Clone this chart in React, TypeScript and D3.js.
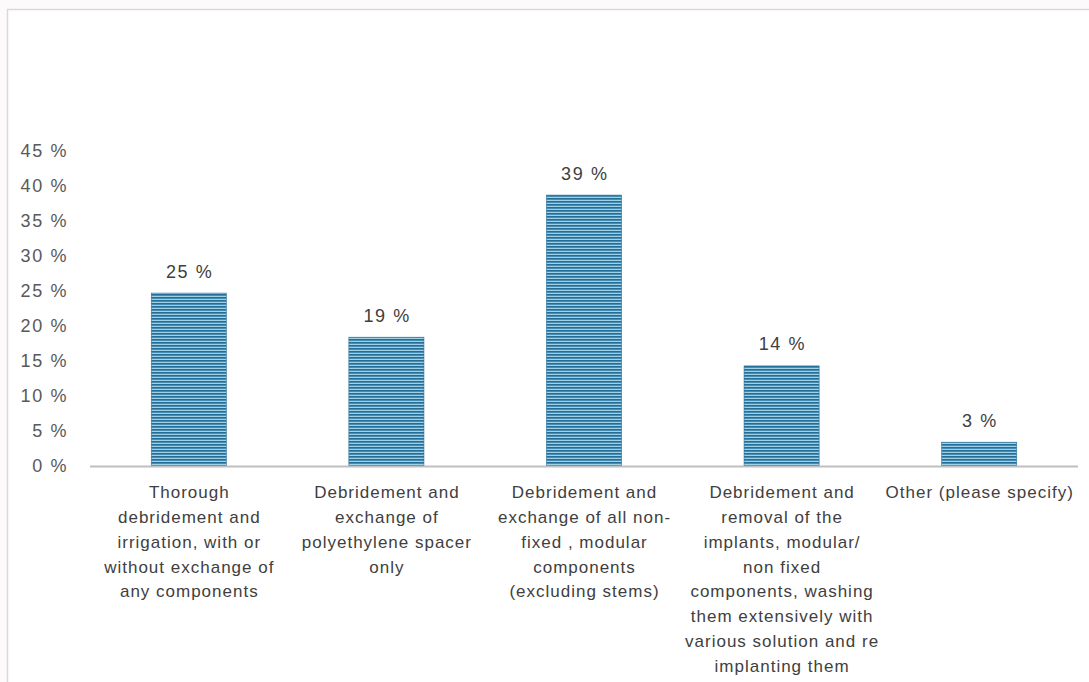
import React from "react";
import * as d3 from "d3";

const categories: string[][] = [
  ["Thorough", "debridement and", "irrigation, with or", "without exchange of", "any components"],
  ["Debridement and", "exchange of", "polyethylene spacer", "only"],
  ["Debridement and", "exchange of all non-", "fixed , modular", "components", "(excluding stems)"],
  ["Debridement and", "removal of the", "implants, modular/", "non fixed", "components, washing", "them extensively with", "various solution and re", "implanting them"],
  ["Other (please specify)"],
];
const values: number[] = [24.7, 18.4, 38.7, 14.3, 3.4];
const valueLabels: string[] = ["25 %", "19 %", "39 %", "14 %", "3 %"];
const ticks: number[] = [0, 5, 10, 15, 20, 25, 30, 35, 40, 45];

const W = 1089;
const H = 682;
const font = "'Liberation Sans', Arial, sans-serif";

export default function App() {
  const x = d3
    .scaleBand<number>()
    .domain(values.map((_, i) => i))
    .range([90, 1078])
    .paddingInner(0.62)
    .paddingOuter(0.31);
  const y = d3.scaleLinear().domain([0, 45]).range([466, 151]);
  const cx = (i: number) => (x(i) as number) + x.bandwidth() / 2;

  return (
    <svg
      width={W}
      height={H}
      style={{ position: "absolute", left: 0, top: 0, background: "#fcfafa" }}
    >
      <defs>
        <pattern id="stripes" width="6" height="3" patternUnits="userSpaceOnUse">
          <rect width="6" height="3" fill="#9fd0e6" />
          <rect width="6" height="1.7" fill="#236f99" />
        </pattern>
      </defs>
      <rect x={7.5} y={9.5} width={W + 10} height={H + 10} fill="#ffffff" stroke="#d9d9d9" strokeWidth={1.5} />
      {ticks.map((t) => (
        <text
          key={t}
          x={68}
          y={y(t)}
          dy="0.36em"
          textAnchor="end"
          fontFamily={font}
          fontSize={18}
          letterSpacing={1.6}
          fill="#595959"
        >
          {t} %
        </text>
      ))}
      {values.map((v, i) => (
        <g key={i}>
          <rect
            x={x(i)}
            y={y(v)}
            width={x.bandwidth()}
            height={y(0) - y(v)}
            fill="url(#stripes)"
            stroke="#2a7099"
            strokeWidth={0.6}
          />
          <text
            x={cx(i) + 0.8}
            y={y(v) - 22}
            dy="0.36em"
            textAnchor="middle"
            fontFamily={font}
            fontSize={18}
            letterSpacing={1.6}
            fill="#404040"
          >
            {valueLabels[i]}
          </text>
          <text
            y={492}
            textAnchor="middle"
            fontFamily={font}
            fontSize={17}
            letterSpacing={1}
            fill="#404040"
          >
            {categories[i].map((line, j) => (
              <tspan key={j} x={cx(i) + 0.5} dy={j === 0 ? "0.36em" : 24.8}>
                {line}
              </tspan>
            ))}
          </text>
        </g>
      ))}
      <line x1={90} x2={1078} y1={466.5} y2={466.5} stroke="#bfbfbf" strokeWidth={2} />
    </svg>
  );
}
